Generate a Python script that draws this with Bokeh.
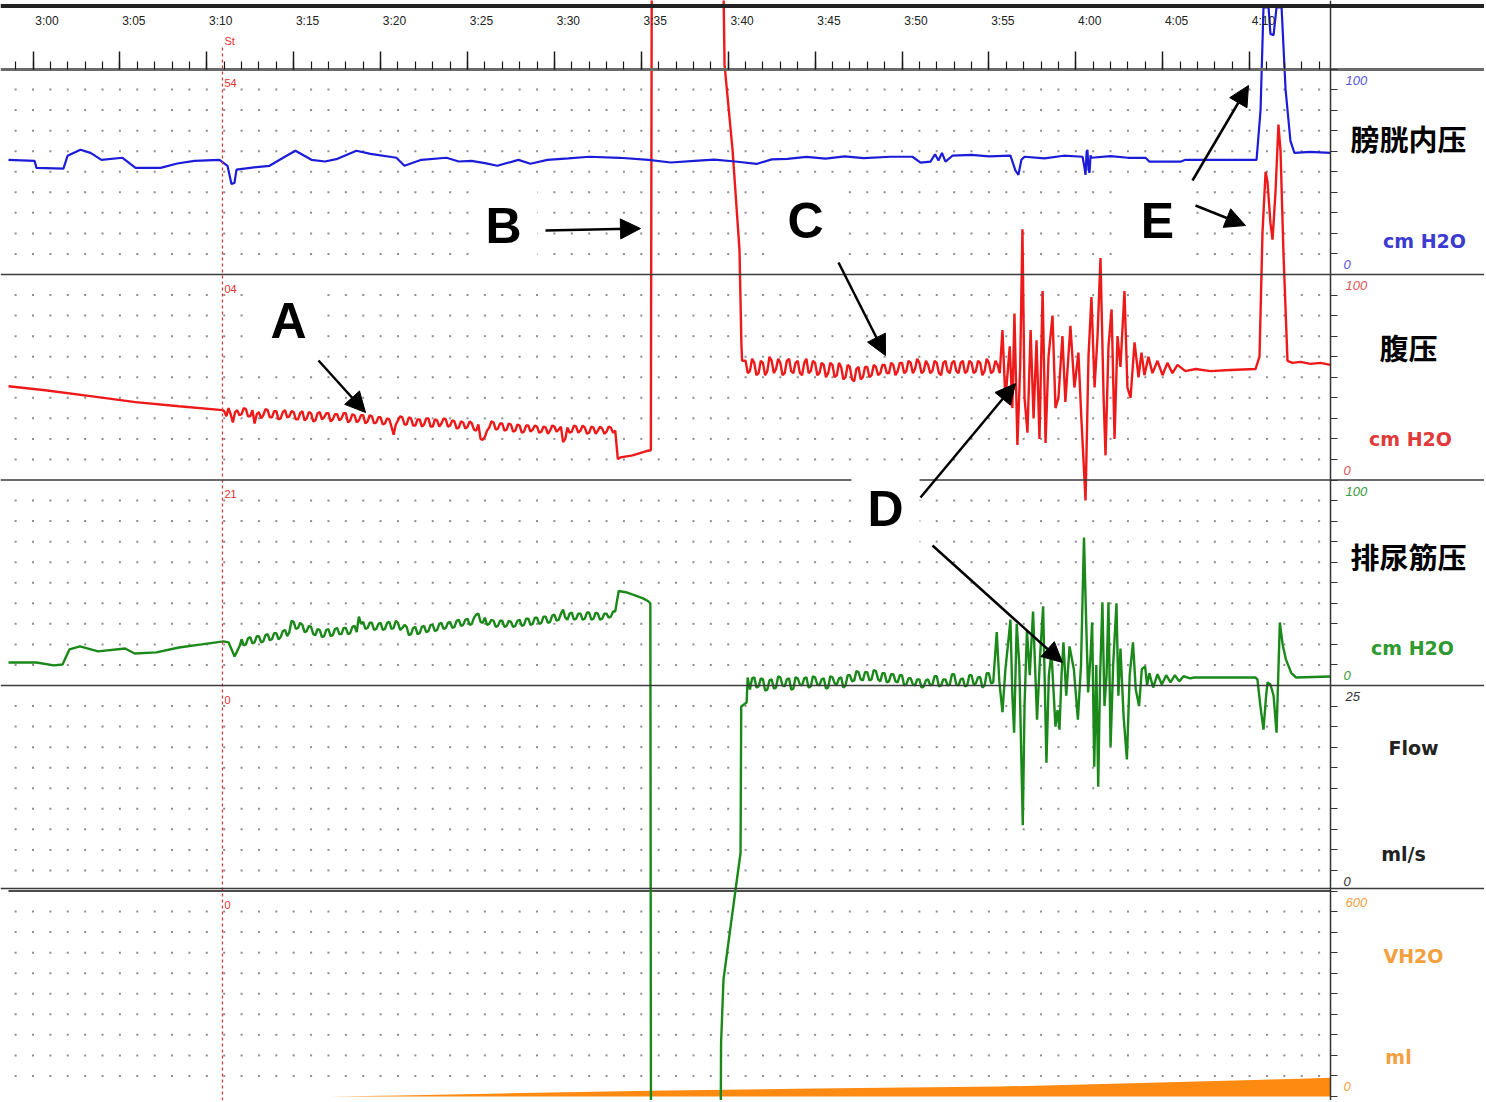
import numpy as np
from bokeh.plotting import figure
from bokeh.models import (LinearAxis, FixedTicker, Range1d, Span, Label, Arrow, NormalHead)
from bokeh.embed import file_html
from bokeh.resources import INLINE

# ---------------- data (time in minutes after 3:00) ----------------
time_tick_minutes = [0, 5, 10, 15, 20, 25, 30, 35, 40, 45, 50, 55, 60, 65, 70]
time_tick_labels = ["3:00", "3:05", "3:10", "3:15", "3:20", "3:25", "3:30", "3:35",
                    "3:40", "3:45", "3:50", "3:55", "4:00", "4:05", "4:10"]

channel_names = ["膀胱内压", "腹压", "排尿筋压", "Flow", "VH2O"]
channel_units = ["cm H2O", "cm H2O", "cm H2O", "ml/s", "ml"]
channel_max = [100, 100, 100, 25, 600]
SAMPLE_STEP = 0.125   # minutes between samples in the densely sampled stretches

# ---- bladder pressure (Pves, cmH2O)
pves_t = [-1.41, 0.09, 0.20, 1.75, 1.99, 2.73, 3.31, 3.94, 5.15, 5.90, 7.34, 8.30, 9.29, 10.73,
          11.19, 11.42, 11.59, 11.71, 12.60, 13.61, 14.59, 15.10, 16.02, 16.80, 17.52, 18.61,
          19.42, 20.91, 21.37, 22.35, 23.79, 24.50, 25.23, 26.00, 26.72, 27.93, 28.62, 29.60,
          30.80, 32.02, 33.74, 35.41, 36.70, 38.06, 39.20, 40.40, 41.63, 42.50, 43.41, 44.50,
          45.60, 46.70, 47.80, 49.34, 50.60, 51.07, 51.64, 51.90, 52.10, 52.30, 52.50, 52.90,
          54.00, 55.00, 56.24, 56.53, 56.70, 56.87, 57.05, 58.20, 59.30, 60.39, 60.50, 60.56,
          60.62, 60.67, 60.73, 60.79, 60.85, 60.90, 62.00, 63.00, 64.01, 64.24, 66.02, 66.31,
          68.00, 70.40, 70.63, 70.80, 71.09, 71.20, 71.38, 71.55, 71.84, 72.07, 72.35, 72.58,
          73.50, 74.65]
pves_v = [55.8, 55.3, 51.9, 51.5, 57.8, 60.7, 59.2, 55.8, 56.8, 51.9, 51.9, 54.0, 55.3, 55.8,
          52.9, 44.0, 44.5, 51.0, 52.0, 52.9, 57.8, 60.2, 55.8, 55.0, 56.3, 60.2,
          58.7, 56.8, 52.9, 55.8, 56.8, 55.0, 55.3, 54.2, 52.9, 55.8, 53.9, 55.8,
          56.5, 57.3, 56.8, 55.8, 54.5, 55.3, 55.9, 55.0, 53.8, 56.0, 56.3, 57.2,
          56.4, 57.5, 56.6, 57.3, 57.3, 54.4, 54.9, 58.5, 55.5, 59.2, 54.9, 57.8,
          58.2, 57.5, 57.8, 50.5, 48.5, 55.8, 57.3, 56.5, 57.8, 57.3, 52.0, 48.5,
          59.5, 60.7, 51.0, 49.5, 58.0, 56.8, 57.6, 56.8, 56.8, 54.9, 54.9, 55.8,
          55.8, 55.8, 80.0, 130.0, 130.0, 117.0, 116.5, 130.0, 130.0, 90.0, 65.0, 59.2,
          59.7, 59.2]

# ---- abdominal pressure (Pabd, cmH2O)
pabd_pre_t = [-1.41, 0.70, 3.30, 5.90, 8.40, 10.90]
pabd_pre_v = [45.6, 43.7, 40.8, 37.9, 35.9, 34.0]
# filling phase, sampled every SAMPLE_STEP from 11.0 min
pabd_fill_v = [33.5, 31.0, 35.0, 32.0, 28.0, 33.0, 34.0, 31.5,
               32.0, 35.0, 34.5, 31.0, 31.0, 34.0, 27.5, 32.0,
               33.0, 30.0, 31.5, 34.5, 34.0, 30.5, 30.5, 33.5,
               33.5, 29.5, 30.0, 33.0, 34.0, 30.5, 31.0, 33.5,
               33.0, 29.5, 29.5, 32.5, 33.5, 29.0, 30.0, 33.0,
               32.5, 28.5, 29.0, 32.5, 33.0, 29.5, 30.5, 32.5,
               32.5, 28.5, 29.5, 32.0, 32.0, 29.0, 30.0, 32.5,
               32.5, 28.0, 29.0, 32.0, 31.5, 28.0, 29.0, 31.5,
               31.5, 27.5, 28.5, 31.5, 31.0, 27.5, 28.0, 30.5,
               30.5, 27.0, 27.5, 30.0, 29.5, 26.0, 22.0, 27.0,
               29.0, 31.0, 30.5, 27.0, 27.0, 30.5, 30.0, 26.5,
               26.5, 29.5, 29.5, 26.0, 27.0, 30.0, 30.0, 26.0,
               26.0, 29.5, 29.0, 26.0, 27.5, 30.0, 29.5, 26.0,
               26.5, 29.0, 28.5, 25.0, 25.5, 28.5, 28.0, 25.0,
               26.0, 28.5, 27.5, 24.5, 24.0, 27.0, 20.0, 19.5,
               21.0, 24.0, 25.5, 28.5, 28.0, 24.5, 25.0, 27.5,
               27.5, 24.0, 24.5, 27.5, 27.0, 23.5, 24.0, 27.0,
               26.5, 23.0, 23.5, 26.5, 26.5, 23.5, 24.5, 26.5,
               26.0, 23.0, 23.5, 26.0, 25.5, 22.5, 24.0, 26.5,
               26.0, 23.5, 24.5, 26.0, 18.5, 20.0, 25.5, 23.0,
               23.5, 26.5, 26.0, 23.0, 24.0, 26.5, 25.5, 22.5,
               23.0, 26.0, 25.5, 22.5, 24.0, 26.0, 25.0, 22.5,
               23.5, 26.0, 25.5, 23.0, 24.0]
pabd_cough_t = [33.65, 33.80, 34.50, 35.30, 35.55, 35.60, 39.73, 39.79, 40.25, 40.65, 40.76, 40.80]
pabd_cough_v = [10.2, 11.0, 12.0, 14.1, 14.5, 240.0, 240.0, 202.0, 160.7, 112.0, 66.0, 58.0]
# after the artefact, sampled every SAMPLE_STEP from 41.0 min
pabd_post_v = [58, 52, 53, 59, 57, 51, 52, 58,
               57, 51, 53, 60, 58, 52, 54, 59,
               57, 51, 52, 58, 59, 53, 52, 57,
               58, 52, 51, 57, 59, 52, 53, 58,
               57, 51, 52, 57, 56, 50, 52, 57,
               56, 50, 51, 57, 55, 49, 50, 56,
               55, 49, 48, 54, 55, 49, 50, 55,
               55, 50, 51, 56, 55, 51, 52, 56,
               56, 52, 52, 57, 56, 51, 53, 57,
               57, 52, 53, 58, 57, 52, 54, 59,
               57, 52, 53, 58, 56, 52, 53, 58,
               57, 52, 51, 57, 58, 53, 52, 57,
               58, 53, 52, 57, 58, 52, 53, 58,
               57, 52, 53, 58, 57, 51, 53, 59,
               57, 52, 53, 58, 56, 52]
pabd_void_t = [55.78, 55.95, 56.20, 56.35, 56.47, 56.64, 56.80, 56.93, 57.05, 57.22, 57.40, 57.57,
               57.74, 57.91, 58.09, 58.26, 58.43, 58.66, 58.83, 59.00, 59.23, 59.40, 59.69, 59.92,
               60.15, 60.32, 60.56, 60.73, 60.90, 61.08, 61.25, 61.42, 61.60, 61.71, 61.88, 62.06,
               62.23, 62.40, 62.57, 62.80, 62.97, 63.15, 63.38, 63.61, 63.78, 63.95, 64.18, 64.41,
               64.70, 64.99, 65.27, 65.56, 65.85, 66.31, 66.89, 67.75, 68.90, 70.34, 70.57, 70.74,
               70.92, 71.03, 71.20, 71.32, 71.49, 71.66, 71.78, 71.95, 72.18, 72.47, 72.93, 73.50,
               74.08, 74.65]
pabd_void_v = [73.0, 39.0, 65.0, 35.0, 81.0, 17.0, 55.0, 122.0, 40.0, 23.0, 73.0, 30.0,
               68.0, 20.0, 92.0, 18.0, 60.0, 80.0, 35.0, 40.0, 70.0, 38.0, 75.0, 45.0,
               62.0, 30.0, -10.0, 60.0, 89.0, 45.0, 70.0, 108.0, 40.0, 12.0, 65.0, 83.0,
               20.0, 70.0, 55.0, 92.0, 45.0, 40.0, 67.0, 50.0, 62.0, 51.0, 60.0, 52.0,
               58.0, 51.0, 57.0, 52.0, 56.0, 53.0, 54.0, 53.0, 53.5, 54.0, 60.0, 120.0,
               150.0, 145.0, 125.0, 117.0, 140.0, 173.0, 160.0, 110.0, 58.0, 57.0, 57.5, 56.5,
               57.0, 56.0]

# ---- detrusor pressure (Pdet, cmH2O)
pdet_pre_t = [-1.41, 0.20, 1.20, 1.70, 2.10, 2.70, 3.75, 5.30, 5.85, 7.10, 8.40, 9.70, 10.96,
              11.25, 11.60, 11.90]
pdet_pre_v = [11.2, 11.2, 9.8, 10.2, 17.6, 19.0, 16.6, 18.0, 15.6, 16.1, 18.5, 20.0, 21.5,
              21.0, 14.1, 19.5]
# filling phase, sampled every SAMPLE_STEP from 12.0 min
pdet_fill_v = [22.5, 19.5, 20.0, 23.0, 23.5, 20.5, 21.0, 24.0,
               24.0, 21.0, 21.5, 24.5, 25.0, 22.0, 22.5, 25.5,
               25.5, 22.5, 23.5, 26.5, 27.0, 24.0, 26.0, 31.5,
               31.0, 27.5, 28.0, 30.5, 29.5, 26.0, 26.5, 29.0,
               28.5, 25.0, 24.5, 27.5, 27.0, 23.5, 24.0, 27.0,
               27.5, 24.0, 24.5, 27.5, 28.0, 25.0, 25.0, 28.0,
               28.0, 25.0, 25.5, 28.5, 29.0, 26.0, 33.5, 30.0,
               31.0, 27.5, 28.0, 30.5, 30.5, 27.0, 27.5, 30.0,
               30.5, 27.0, 27.5, 30.5, 31.0, 27.5, 28.0, 31.5,
               30.5, 27.0, 28.0, 29.5, 28.5, 24.5, 25.0, 28.0,
               28.5, 25.0, 25.5, 28.5, 29.0, 26.0, 26.5, 29.5,
               29.5, 26.5, 27.0, 30.0, 30.5, 27.5, 28.0, 30.5,
               31.0, 28.0, 28.5, 31.5, 32.0, 29.0, 29.5, 32.0,
               32.5, 29.5, 30.0, 33.0, 34.5, 35.0, 31.0, 30.5,
               33.0, 29.5, 30.0, 32.0, 31.5, 28.5, 29.0, 31.5,
               31.5, 28.5, 29.0, 31.5, 31.0, 28.5, 29.0, 31.5,
               32.0, 29.0, 29.5, 32.5, 32.5, 29.5, 30.0, 33.0,
               33.0, 30.0, 30.5, 33.5, 33.5, 30.5, 31.0, 34.0,
               34.5, 31.5, 32.0, 35.0, 37.0, 33.0, 32.0, 35.0,
               35.5, 32.0, 32.5, 35.0, 35.0, 32.0, 32.5, 35.5,
               35.5, 32.0, 32.5, 35.5, 35.0, 32.0, 32.5, 35.0,
               35.0, 33.0, 33.5, 36.0, 36.0]
pdet_cough_t = [33.70, 34.10, 34.60, 35.10, 35.40, 35.52, 35.56, 39.56, 39.59,
                39.73, 40.42, 40.71, 40.75, 41.06, 41.12]
pdet_cough_v = [46.0, 45.4, 44.0, 42.4, 41.0, 40.0, -230.0, -230.0, -174.0,
                -143.0, -99.5, -81.5, -10.2, -8.3, 3.9]
# after the artefact, sampled every SAMPLE_STEP from 41.25 min
pdet_post_v = [-2.0, 3.5, 4.0, -1.0, -0.5, 3.5,
               3.0, -2.5, -2.0, 2.5, 3.0, -1.5, -1.0, 4.5,
               4.0, 0.0, -0.5, 3.0, 3.5, -2.0, -1.5, 4.0,
               3.5, 0.5, 0.0, 3.5, 4.0, -1.0, -0.5, 4.5,
               4.0, 0.5, 0.0, 3.0, 3.5, -1.5, -1.0, 4.5,
               4.0, 1.0, 0.5, 3.5, 4.0, -1.0, 0.0, 5.0,
               5.0, 2.0, 2.5, 7.0, 6.5, 3.0, 2.5, 6.5,
               6.5, 2.5, 3.0, 7.5, 7.0, 3.0, 2.0, 6.0,
               6.0, 1.5, 2.0, 5.5, 5.5, 2.0, 1.5, 5.0,
               5.0, 0.0, 0.5, 3.5, 3.5, 0.5, 0.0, 3.0,
               3.0, -1.0, -0.5, 2.5, 3.0, 0.0, 0.5, 4.5,
               4.5, -0.5, 0.0, 3.0, 3.0, 0.0, 0.5, 5.5,
               5.5, 0.5, 0.0, 3.0, 3.5, -0.5, 0.0, 5.0,
               5.0, 0.5, 1.0, 4.0, 4.0, -1.0, 0.0, 6.0,
               6.0, 1.0, 1.5]
pdet_void_t = [55.45, 55.60, 55.78, 55.95, 56.10, 56.24, 56.35, 56.45, 56.60, 56.75, 56.95, 57.05,
               57.19, 57.35, 57.54, 57.77, 57.95, 58.12, 58.31, 58.45, 58.60, 58.83, 58.95, 59.06,
               59.18, 59.29, 59.45, 59.64, 59.89, 60.12, 60.30, 60.47, 60.60, 60.71, 60.85, 60.94,
               61.06, 61.18, 61.29, 61.40, 61.53, 61.65, 61.77, 61.88, 62.00, 62.15, 62.34, 62.45,
               62.57, 62.75, 62.94, 63.10, 63.29, 63.45, 63.64, 63.80, 63.99, 64.10, 64.23, 64.45,
               64.70, 64.95, 65.20, 65.45, 65.70, 65.95, 66.20, 66.58, 66.81, 68.00, 70.33, 70.45,
               70.62, 70.80, 70.95, 71.03, 71.20, 71.38, 71.55, 71.65, 71.74, 71.90, 72.09, 72.40,
               72.68, 74.65]
pdet_void_v = [26.0, 2.0, -13.0, 8.0, 20.0, 32.0, -5.0, -23.0, 30.0, 10.0, -68.0, -10.0,
               27.0, 5.0, 36.0, -16.6, 15.0, 38.5, -37.6, 5.0, 16.0, -20.0, -12.0, -21.5,
               5.0, 21.0, -5.0, 19.0, 7.8, -16.6, 10.0, 72.0, 30.0, -3.4, 15.0, 30.7,
               -39.5, 10.0, -49.3, 5.0, 40.5, -10.0, 5.0, 40.5, -29.8, 10.0, 40.0, -5.0,
               18.0, -15.0, -36.0, 5.0, 21.0, -2.0, -10.0, 8.0, 9.3, 0.0, 6.0, -1.0,
               5.5, 0.5, 5.0, 1.5, 5.0, 2.0, 4.5, 3.5, 3.9, 3.9, 3.9, 3.0,
               -10.0, -21.5, -5.0, 1.5, 0.5, -5.0, -23.0, 5.0, 30.7, 20.0, 12.7, 6.0,
               3.9, 4.4]

# ---- flow (ml/s) - no voided flow recorded
flow_t = [-1.41, 74.65]
flow_v = [0.0, 0.0]

# ---- infused volume (ml)
vol_t = [17.1, 21.1, 27.0, 35.5, 45.0, 55.6, 64.3, 72.9, 74.65]
vol_v = [0.0, 3.0, 9.0, 17.0, 23.0, 29.0, 40.0, 52.0, 55.0]

# ---- start marker and cursor readout
st_time = 10.9
st_values = ["54", "04", "21", "0", "0"]


def sampled(t0, vals):
    return list(t0 + SAMPLE_STEP * np.arange(len(vals)))


pabd_t = pabd_pre_t + sampled(11.0, pabd_fill_v) + pabd_cough_t + sampled(41.0, pabd_post_v) + pabd_void_t
pabd_v = pabd_pre_v + pabd_fill_v + pabd_cough_v + pabd_post_v + pabd_void_v
pdet_t = pdet_pre_t + sampled(12.0, pdet_fill_v) + pdet_cough_t + sampled(41.25, pdet_post_v) + pdet_void_t
pdet_v = pdet_pre_v + pdet_fill_v + pdet_cough_v + pdet_post_v + pdet_void_v

# ---------------- geometry / styling ----------------
W, H = 1484, 1100
PX_PER_MIN = 17.38
X0 = -32.5 / PX_PER_MIN          # 3:00 tick sits 32.5 px from the left
X1 = X0 + W / PX_PER_MIN
SCALE_T = 74.655                 # right-hand scale line
TOP = H - 68.5                   # top of first channel (data y)
PH = 205.5                       # channel height
LBL_SHIFT = 0.8

colors = ["#1c1cd8", "#ee1a1a", "#1a891a", "#111111", "#ff8a12"]
unit_colors = ["#3b3bd0", "#e03a3a", "#2f9a2f", "#222222", "#f2a040"]
scale_colors = ["#5555dd", "#e05555", "#3a9a3a", "#333333", "#f2a040"]


def dx(sx):   # page px -> data x
    return X0 + sx / PX_PER_MIN


def dy(sy):   # page px -> data y
    return H - sy


def bottom(i):
    return TOP - (i + 1) * PH


def chan_y(vals, i):
    return bottom(i) + np.asarray(vals, dtype=float) / channel_max[i] * PH


p = figure(width=W, height=H, x_range=Range1d(X0, X1), y_range=Range1d(0, H),
           output_backend="svg", toolbar_location=None, min_border=0,
           x_axis_location=None, y_axis_location=None)
p.outline_line_color = None
p.xgrid.visible = False
p.ygrid.visible = False
p.background_fill_color = "white"

# dotted background grid (1 min x 1/10 of channel)
gx, gy = [], []
for i in range(5):
    for k in range(1, 10):
        for m in range(-1, 75):
            gx.append(m)
            gy.append(bottom(i) + k * PH / 10)
p.scatter(gx, gy, marker="square", size=2, color="#8e8e8e", line_color=None)

# channel separators
for i in range(3):
    p.add_layout(Span(location=bottom(i), dimension="width", line_color="#3a3a3a", line_width=1.5))
p.add_layout(Span(location=bottom(3) + 2.5, dimension="width", line_color="#3a3a3a", line_width=1.5))
p.add_layout(Span(location=dy(5.5), dimension="width", line_color="#222222", line_width=4))

# traces
p.varea(x=vol_t, y1=chan_y(np.zeros(len(vol_t)), 4), y2=chan_y(vol_v, 4), color=colors[4])
p.line(flow_t, chan_y(flow_v, 3), line_color=colors[3], line_width=1.5)
p.line(pdet_t, chan_y(pdet_v, 2), line_color=colors[2], line_width=2.4)
p.line(pabd_t, chan_y(pabd_v, 1), line_color=colors[1], line_width=2.4)
p.line(pves_t, chan_y(pves_v, 0), line_color=colors[0], line_width=2.2)

# start marker
p.segment(x0=[st_time], y0=[0], x1=[st_time], y1=[dy(46)], line_color="#e03030",
          line_dash="3 3", line_width=1.2)
p.add_layout(Label(x=st_time, y=dy(40), text="St", x_offset=2, text_color="#e03030",
                   text_font="Liberation Sans", text_font_size="11px", text_baseline="middle"))
for i, s in enumerate(st_values):
    p.add_layout(Label(x=st_time, y=bottom(i) + PH - 14, text=s, x_offset=2, text_color="#e03030",
                       text_font="Liberation Sans", text_font_size="11px", text_baseline="middle"))

# time ruler (ticks) and time labels
ruler = LinearAxis(ticker=FixedTicker(ticks=time_tick_minutes, minor_ticks=list(range(-1, 75))),
                   fixed_location=TOP, axis_line_color="#6a6a6a", axis_line_width=3,
                   major_tick_out=18, major_tick_in=0, minor_tick_out=8, minor_tick_in=0,
                   major_tick_line_color="#1a1a1a", minor_tick_line_color="#1a1a1a",
                   major_tick_line_width=1.5, minor_tick_line_width=1.2,
                   major_label_text_color=None)
p.add_layout(ruler, "above")

p.extra_x_ranges = {"lbl": Range1d(X0 - LBL_SHIFT, X1 - LBL_SHIFT)}
tlabels = LinearAxis(x_range_name="lbl", ticker=FixedTicker(ticks=time_tick_minutes, minor_ticks=[]),
                     major_label_overrides={m: s for m, s in zip(time_tick_minutes, time_tick_labels)},
                     fixed_location=dy(27), axis_line_color=None, major_tick_line_color=None,
                     minor_tick_line_color=None, major_tick_out=0, minor_tick_out=0,
                     major_label_standoff=0, major_label_text_font_size="12px",
                     major_label_text_color="#222222", major_label_text_font="Liberation Sans")
p.add_layout(tlabels, "above")

# right-hand channel scales
yt = sorted({round(bottom(i) + k * PH / 10, 3) for i in range(5) for k in range(11)})
raxis = LinearAxis(ticker=FixedTicker(ticks=yt, minor_ticks=[]), fixed_location=SCALE_T,
                   axis_line_color="#333333", axis_line_width=1.5, major_tick_out=7, major_tick_in=0,
                   major_tick_line_color="#333333", major_label_text_color=None)
p.add_layout(raxis, "right")

name_sy = [137, 346, 555, 747, 955]
name_sx = [1408, 1408, 1408, 1413, 1413]
unit_sy = [240, 438, 647, 853, 1056]
unit_sx = [1424, 1410, 1412, 1403, 1398]
for i in range(5):
    p.add_layout(Label(x=dx(1345), y=bottom(i) + PH - 11, text=str(channel_max[i]),
                       text_color=scale_colors[i], text_font="Liberation Sans", text_font_style="italic",
                       text_font_size="13px", text_baseline="middle"))
    p.add_layout(Label(x=dx(1343), y=bottom(i) + 10, text="0",
                       text_color=scale_colors[i], text_font="Liberation Sans", text_font_style="italic",
                       text_font_size="13px", text_baseline="middle"))
    cjk = i < 3
    p.add_layout(Label(x=dx(name_sx[i]), y=dy(name_sy[i]), text=channel_names[i],
                       text_color="#000000" if cjk else unit_colors[i],
                       text_font="Noto Sans CJK SC" if cjk else "DejaVu Sans", text_font_style="bold",
                       text_font_size="29px" if cjk else "19px",
                       text_align="center", text_baseline="middle"))
    p.add_layout(Label(x=dx(unit_sx[i]), y=dy(unit_sy[i]), text=channel_units[i],
                       text_color=unit_colors[i], text_font="DejaVu Sans", text_font_style="bold",
                       text_font_size="19px", text_align="center", text_baseline="middle"))

# annotation letters and arrows (page positions)
letters = [("A", 288, 320), ("B", 503, 225), ("C", 805, 220), ("D", 885, 508), ("E", 1157, 220)]
for txt, sx, sy in letters:
    p.add_layout(Label(x=dx(sx), y=dy(sy), text=txt, text_font="Liberation Sans",
                       text_font_style="bold", text_font_size="50px", text_color="black",
                       text_align="center", text_baseline="middle",
                       background_fill_color="white", padding=16))

arrows = [(318, 360, 365, 412), (545, 230, 640, 228), (838, 262, 885, 355),
          (920, 497, 1015, 383), (932, 545, 1062, 662), (1192, 180, 1248, 85),
          (1195, 205, 1245, 225)]
for sx0, sy0, sx1, sy1 in arrows:
    p.add_layout(Arrow(end=NormalHead(size=20, fill_color="black", line_color="black"),
                       x_start=dx(sx0), y_start=dy(sy0), x_end=dx(sx1), y_end=dy(sy1),
                       line_color="black", line_width=2.5))

open("out.html", "w").write(file_html(p, INLINE))
